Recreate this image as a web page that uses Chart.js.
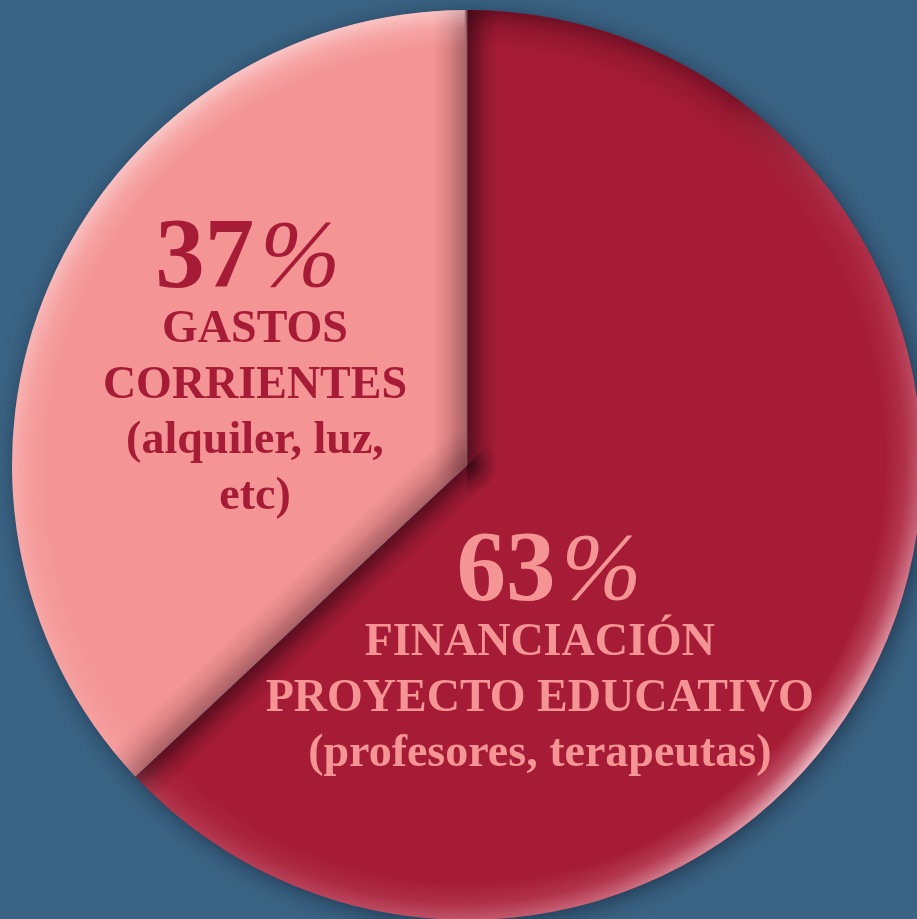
<!DOCTYPE html>
<html>
<head>
<meta charset="utf-8">
<script src="https://cdn.jsdelivr.net/npm/chart.js@4/dist/chart.umd.min.js"></script>
<style>
  html, body { margin: 0; padding: 0; background: #3b6383; overflow: hidden; width: 917px; height: 919px; }
  #wrap { position: absolute; left: 0; top: 0; width: 934px; height: 930px; }
</style>
</head>
<body>
<div id="wrap"><canvas id="c" width="934" height="930"></canvas></div>
<script>
// ---- data ----
const labels = ['Financiación proyecto educativo', 'Gastos corrientes'];
const values = [63, 37];
const percentLabels = ['63', '37'];
const descLines = [
  ['FINANCIACIÓN', 'PROYECTO EDUCATIVO', '(profesores, terapeutas)'],
  ['GASTOS', 'CORRIENTES', '(alquiler, luz,', 'etc)']
];
const sliceColors = ['#a61c36', '#f49494'];
const textColors = ['#f49494', '#a61c36'];

// label placement relative to pie centre, in units of radius (style)
const labelPos = [
  { pctX: 0.180, textX: 0.160, firstBaseline: 0.295 },
  { pctX: -0.482, textX: -0.466, firstBaseline: -0.393 }
];

const SERIF = '"Liberation Serif", "Times New Roman", serif';

function slicePath(ctx, el, R) {
  ctx.beginPath();
  ctx.moveTo(el.x, el.y);
  ctx.arc(el.x, el.y, R, el.startAngle, el.endAngle);
  ctx.closePath();
}

function fade(color, f) {
  return color.replace(/[\d.]+\)$/, (m) => (parseFloat(m) * f).toFixed(3) + ')');
}

function addStops(g, color) {
  g.addColorStop(0, color);
  g.addColorStop(0.25, fade(color, 0.75));
  g.addColorStop(0.55, fade(color, 0.35));
  g.addColorStop(1, fade(color, 0));
}

function rayStrip(ctx, el, R, ang, side, width, color) {
  // ang: canvas angle of ray; side +1 = clockwise side, -1 = counter-clockwise side
  const dx = Math.cos(ang), dy = Math.sin(ang);
  const nx = -dy * side, ny = dx * side;
  const cx = el.x, cy = el.y, L = R * 1.1, W = width * 1.2;
  // part along the ray (linear fall-off)
  ctx.save();
  slicePath(ctx, el, R);
  ctx.clip();
  ctx.beginPath();
  ctx.moveTo(cx, cy);
  ctx.lineTo(cx + dx * L, cy + dy * L);
  ctx.lineTo(cx + dx * L + nx * W, cy + dy * L + ny * W);
  ctx.lineTo(cx + nx * W, cy + ny * W);
  ctx.closePath();
  ctx.clip();
  const g = ctx.createLinearGradient(cx, cy, cx + nx * width, cy + ny * width);
  addStops(g, color);
  ctx.fillStyle = g;
  ctx.fillRect(0, 0, ctx.canvas.width, ctx.canvas.height);
  ctx.restore();
  // part behind the vertex (radial fall-off, keeps shading continuous)
  ctx.save();
  slicePath(ctx, el, R);
  ctx.clip();
  ctx.beginPath();
  ctx.moveTo(cx, cy);
  ctx.lineTo(cx - dx * W, cy - dy * W);
  ctx.lineTo(cx - dx * W + nx * W, cy - dy * W + ny * W);
  ctx.lineTo(cx + nx * W, cy + ny * W);
  ctx.closePath();
  ctx.clip();
  const rg = ctx.createRadialGradient(cx, cy, 0, cx, cy, width);
  addStops(rg, color);
  ctx.fillStyle = rg;
  ctx.fillRect(0, 0, ctx.canvas.width, ctx.canvas.height);
  ctx.restore();
}

const shadePlugin = {
  id: 'shade',
  beforeDatasetsDraw(chart) {
    const ctx = chart.ctx;
    const el = chart.getDatasetMeta(0).data[0];
    const R = el.outerRadius;
    ctx.save();
    ctx.shadowColor = 'rgba(10,25,45,0.6)';
    ctx.shadowBlur = 22;
    ctx.shadowOffsetX = 3;
    ctx.shadowOffsetY = 4;
    ctx.beginPath();
    ctx.arc(el.x, el.y, R - 1, 0, Math.PI * 2);
    ctx.fillStyle = sliceColors[0];
    ctx.fill();
    ctx.restore();
  },
  afterDatasetsDraw(chart) {
    const ctx = chart.ctx;
    const meta = chart.getDatasetMeta(0);
    const red = meta.data[0], pink = meta.data[1];
    const R = red.outerRadius;
    const cx = red.x, cy = red.y;

    // boundary shading (raised-edge look)
    const a0 = red.startAngle;  // top ray
    const a1 = red.endAngle;    // diagonal ray
    rayStrip(ctx, red, R, a0, 1, 30, 'rgba(45,5,18,0.62)');
    rayStrip(ctx, pink, R, a0, -1, 34, 'rgba(85,35,45,0.45)');
    rayStrip(ctx, red, R, a1, -1, 30, 'rgba(45,5,18,0.62)');
    rayStrip(ctx, pink, R, a1, 1, 36, 'rgba(85,35,45,0.45)');

    // rim highlight
    const off = document.createElement('canvas');
    off.width = ctx.canvas.width; off.height = ctx.canvas.height;
    const o = off.getContext('2d');
    const cg = o.createConicGradient(-Math.PI / 2, cx, cy);
    cg.addColorStop(0.0, 'rgba(40,0,12,0.45)');
    cg.addColorStop(0.10, 'rgba(40,0,12,0.35)');
    cg.addColorStop(0.17, 'rgba(255,215,225,0.10)');
    cg.addColorStop(0.27, 'rgba(255,215,225,0.40)');
    cg.addColorStop(0.36, 'rgba(255,225,232,0.78)');
    cg.addColorStop(0.45, 'rgba(255,215,225,0.40)');
    cg.addColorStop(0.55, 'rgba(255,215,225,0.22)');
    cg.addColorStop(0.63, 'rgba(255,225,225,0.12)');
    cg.addColorStop(0.75, 'rgba(255,230,230,0.30)');
    cg.addColorStop(0.88, 'rgba(255,240,240,0.55)');
    cg.addColorStop(0.999, 'rgba(255,240,240,0.50)');
    cg.addColorStop(1.0, 'rgba(40,0,12,0.45)');
    o.fillStyle = cg;
    o.beginPath();
    o.arc(cx, cy, R, 0, Math.PI * 2);
    o.fill();
    o.globalCompositeOperation = 'destination-in';
    const rg = o.createRadialGradient(cx, cy, R - 38, cx, cy, R);
    rg.addColorStop(0, 'rgba(0,0,0,0)');
    rg.addColorStop(0.55, 'rgba(0,0,0,0.35)');
    rg.addColorStop(1, 'rgba(0,0,0,1)');
    o.fillStyle = rg;
    o.fillRect(0, 0, off.width, off.height);
    ctx.drawImage(off, 0, 0);

    // thin edge lines along rays
    ctx.save();
    ctx.strokeStyle = 'rgba(115,100,110,0.75)';
    ctx.lineWidth = 1;
    [a0, a1].forEach(a => {
      ctx.beginPath();
      ctx.moveTo(cx, cy);
      ctx.lineTo(cx + Math.cos(a) * R, cy + Math.sin(a) * R);
      ctx.stroke();
    });
    ctx.restore();

    // labels
    ctx.save();
    ctx.textBaseline = 'alphabetic';
    meta.data.forEach((el, i) => {
      const p = labelPos[i];
      ctx.fillStyle = textColors[i];
      const y = cy + p.firstBaseline * R;
      // percentage
      ctx.font = 'bold 99px ' + SERIF;
      const wd = ctx.measureText(percentLabels[i]).width;
      ctx.font = 'italic 96px ' + SERIF;
      const wp = ctx.measureText('%').width;
      const gap = 6;
      const total = wd + gap + wp;
      const x0 = cx + p.pctX * R - total / 2;
      ctx.textAlign = 'left';
      ctx.font = 'bold 99px ' + SERIF;
      ctx.fillText(percentLabels[i], x0, y);
      ctx.font = 'italic 96px ' + SERIF;
      ctx.fillText('%', x0 + wd + gap, y);
      // description
      ctx.textAlign = 'center';
      ctx.font = 'bold 46px ' + SERIF;
      descLines[i].forEach((line, k) => {
        ctx.fillText(line, cx + p.textX * R, y + 56 + k * 55.5);
      });
    });
    ctx.restore();
  }
};

new Chart(document.getElementById('c'), {
  type: 'pie',
  data: {
    labels: labels,
    datasets: [{
      data: values,
      backgroundColor: sliceColors,
      borderWidth: 0,
      hoverOffset: 0
    }]
  },
  options: {
    responsive: false,
    animation: false,
    devicePixelRatio: 1,
    layout: { padding: 10 },
    plugins: {
      legend: { display: false },
      tooltip: { enabled: false }
    },
    events: []
  },
  plugins: [shadePlugin]
});
</script>
</body>
</html>
